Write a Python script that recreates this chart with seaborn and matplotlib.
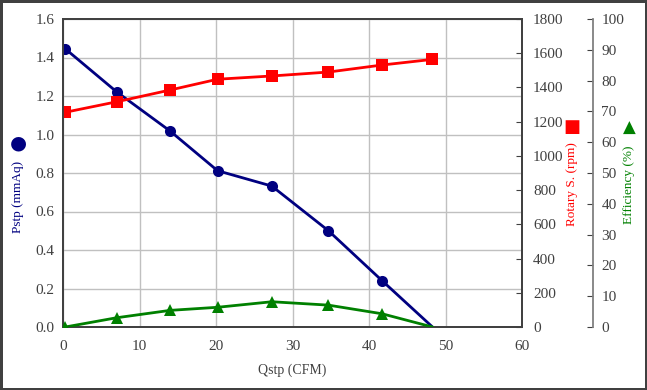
import matplotlib
matplotlib.use('Agg')
import matplotlib.pyplot as plt
import seaborn as sns
import pandas as pd

# values
qstp = [0.3, 7.0, 14.0, 20.2, 27.3, 34.7, 41.7, 48.3]
pstp = [1.445, 1.222, 1.018, 0.812, 0.732, 0.50, 0.241, 0.0]
rpm = [1255, 1316, 1385, 1448, 1467, 1490, 1531, 1564]
eff = [0.0, 3.0, 5.4, 6.4, 8.2, 7.1, 4.3, 0.0]

df = pd.DataFrame({'Qstp': qstp, 'Pstp': pstp, 'RPM': rpm, 'Eff': eff})

sns.set_style('white')
plt.rcParams['font.family'] = ['Liberation Serif', 'DejaVu Sans']

navy = '#000080'
red = '#ff0000'
green = '#008000'
tickc = '#404040'

fig = plt.figure(figsize=(6.47, 3.9), dpi=100, edgecolor='#404040', linewidth=2.5)
ax = fig.add_axes([63/647, 1-327/390, (522-63)/647, (327-19)/390])
ax2 = ax.twinx()
ax3 = ax.twinx()

sns.lineplot(data=df, x='Qstp', y='Pstp', ax=ax, color=navy, lw=2,
             marker='o', markersize=8, markeredgewidth=0, markevery=list(range(7)))
sns.lineplot(data=df, x='Qstp', y='RPM', ax=ax2, color=red, lw=2,
             marker='s', markersize=8, markeredgewidth=0)
sns.lineplot(data=df, x='Qstp', y='Eff', ax=ax3, color=green, lw=2,
             marker='^', markersize=8, markeredgewidth=0, markevery=list(range(7)))

ax.set_xlim(0, 60)
ax.set_ylim(0, 1.6)
ax.set_xticks(range(0, 61, 10))
ax.set_yticks([0, 0.2, 0.4, 0.6, 0.8, 1.0, 1.2, 1.4, 1.6])
ax.set_yticklabels(['%.1f' % v for v in ax.get_yticks()])
ax.grid(True, color='#c0c0c0', lw=1)
ax.set_axisbelow(True)
ax.tick_params(length=0, labelsize=11, labelcolor=tickc, pad=6)
ax.tick_params(axis='x', pad=9)
ax.set_xlabel('Qstp (CFM)', fontsize=10, color=tickc, labelpad=8)
ax.set_ylabel('')

ax2.set_ylim(0, 1800)
ax2.set_yticks(range(0, 1801, 200))
ax2.tick_params(axis='y', direction='in', length=4, color=tickc, labelsize=11,
                labelcolor=tickc, pad=8)
ax2.set_ylabel('')

ax3.set_ylim(0, 100)
ax3.set_yticks(range(0, 101, 10))
ax3.spines['right'].set_position(('axes', (593-63)/(522-63)))
ax3.tick_params(axis='y', direction='in', length=4, color=tickc, labelsize=11,
                labelcolor=tickc, pad=6)
ax3.set_ylabel('')

for a in (ax, ax2):
    for s in a.spines.values():
        s.set_color('#404040')
        s.set_linewidth(1.3)
for name, s in ax3.spines.items():
    if name == 'right':
        s.set_color('#808080')
        s.set_linewidth(1.3)
    else:
        s.set_visible(False)

# axis titles with the series symbols
fig.text(18/647, 1-197/390, 'Pstp (mmAq)', rotation=90, ha='center', va='center',
         color=navy, fontsize=9.5)
fig.text(18/647, 1-143/390, '\u25cf', ha='center', va='center', color=navy,
         fontsize=14, family='DejaVu Sans')
fig.text(572/647, 1-184/390, 'Rotary S. (rpm)', rotation=90, ha='center', va='center',
         color=red, fontsize=9.5)
fig.text(572/647, 1-127/390, '\u25a0', ha='center', va='center', color=red,
         fontsize=13, family='DejaVu Sans')
fig.text(629/647, 1-185/390, 'Efficiency (%)', rotation=90, ha='center', va='center',
         color=green, fontsize=9.5)
fig.text(629/647, 1-128/390, '\u25b2', ha='center', va='center', color=green,
         fontsize=12, family='DejaVu Sans')

fig.savefig('out.png', dpi=100)
